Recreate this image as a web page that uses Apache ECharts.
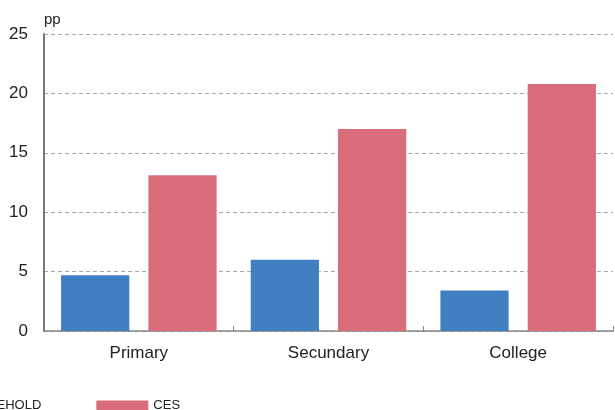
<!DOCTYPE html>
<html><head><meta charset="utf-8">
<script src="https://cdn.jsdelivr.net/npm/echarts@6/dist/echarts.min.js"></script>
<style>html,body{margin:0;padding:0;background:#fff}#c{width:615px;height:410px}</style>
</head><body><div id="c"></div>
<script>
const categories = ['Primary', 'Secundary', 'College'];
const household = [4.7, 6.0, 3.4];
const ces = [13.1, 17.0, 20.8];
const yTicks = [0, 5, 10, 15, 20, 25];

const chart = echarts.init(document.getElementById('c'));
chart.setOption({
  animation: false,
  grid: { left: 44, right: 2, top: 34, bottom: 79 },
  legend: {
    left: -103, top: 394,
    itemWidth: 52, itemHeight: 10, itemGap: 55,
    icon: 'rect',
    textStyle: { fontFamily: 'Liberation Sans Narrow, Liberation Sans, Arial', fontSize: 13, color: '#222' },
    data: ['HOUSEHOLD', 'CES']
  },
  xAxis: {
    type: 'category', data: categories,
    axisLine: { lineStyle: { color: '#888', width: 1.5 } },
    axisTick: { show: true, inside: true, length: 5, lineStyle: { color: '#888' } },
    axisLabel: { fontFamily: 'Liberation Sans, Arial', fontSize: 17, color: '#222', margin: 14 }
  },
  yAxis: {
    type: 'value', min: 0, max: 25, interval: 5,
    name: 'pp', nameGap: 7,
    nameTextStyle: { fontFamily: 'Liberation Sans, Arial', fontSize: 15, color: '#222', align: 'left', padding: [0, 0, 0, 0] },
    axisLine: { show: true, lineStyle: { color: '#777', width: 2 } },
    axisTick: { show: false },
    axisLabel: { fontFamily: 'Liberation Sans, Arial', fontSize: 17, color: '#222', margin: 16 },
    splitLine: { lineStyle: { color: '#aaa', type: [4, 3] } }
  },
  series: [
    { name: 'HOUSEHOLD', type: 'bar', data: household, itemStyle: { color: '#3f7fc2' }, barGap: '28%', barCategoryGap: '18%' },
    { name: 'CES', type: 'bar', data: ces, itemStyle: { color: '#d96d7b' } }
  ]
});
</script></body></html>
